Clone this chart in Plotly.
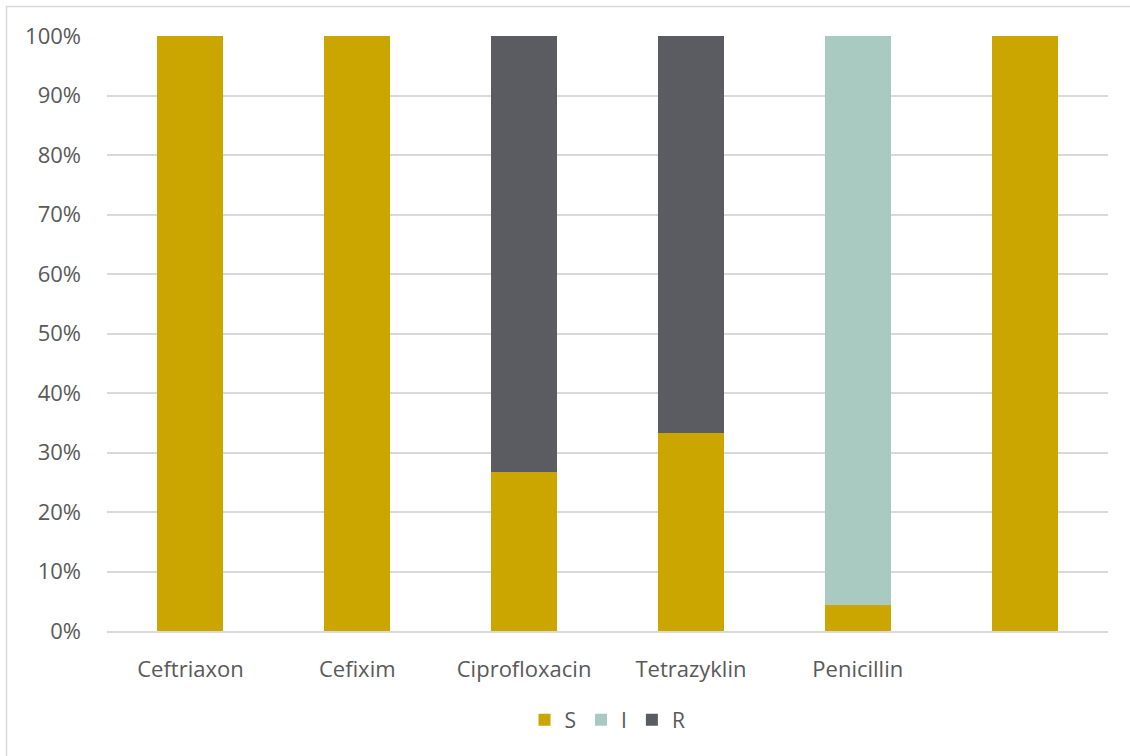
import plotly.graph_objects as go

categories = ["Ceftriaxon", "Cefixim", "Ciprofloxacin", "Tetrazyklin", "Penicillin", " "]
s_values = [1.0, 1.0, 0.267, 0.333, 0.044, 1.0]
i_values = [0.0, 0.0, 0.0, 0.0, 0.956, 0.0]
r_values = [0.0, 0.0, 0.733, 0.667, 0.0, 0.0]
y_ticks = [0, 0.1, 0.2, 0.3, 0.4, 0.5, 0.6, 0.7, 0.8, 0.9, 1.0]

colors = {"S": "#CBA500", "I": "#A8CAC0", "R": "#5B5C61"}
font_family = "Open Sans, Noto Sans, sans-serif"
text_color = "#595959"

fig = go.Figure()
for name, vals in [("S", s_values), ("I", i_values), ("R", r_values)]:
    fig.add_trace(go.Bar(
        x=categories, y=vals, name=name,
        marker=dict(color=colors[name], line=dict(width=0)),
        hoverinfo="x+y+name",
    ))

W, H = 1130, 756
L, R, T, B = 107, 22, 36, 125
pw, ph = W - L - R, H - T - B

def px_x(px):
    return (px - L) / pw

def px_y(py):
    return (H - B - py) / ph

fig.update_layout(
    width=W, height=H,
    barmode="stack",
    bargap=0.605,
    margin=dict(l=L, r=R, t=T, b=B),
    plot_bgcolor="white",
    paper_bgcolor="white",
    font=dict(family=font_family, size=22, color=text_color),
    showlegend=True,
    legend=dict(
        orientation="h", x=0.5, xanchor="center",
        y=px_y(720), yanchor="middle",
        font=dict(size=21, color=text_color),
        itemwidth=30, tracegroupgap=0, traceorder="normal",
    ),
    xaxis=dict(
        showgrid=False, showline=True, linecolor="#D9D9D9", linewidth=2,
        ticks="", ticklabelstandoff=18, fixedrange=True,
    ),
    yaxis=dict(
        range=[0, 1.0], tickvals=y_ticks, tickformat=".0%",
        showgrid=True, gridcolor="#D9D9D9", gridwidth=2,
        zeroline=False, showline=False, ticks="",
        ticklabelstandoff=25, fixedrange=True,
    ),
    shapes=[dict(
        type="rect", xref="paper", yref="paper",
        x0=px_x(6.5), x1=px_x(1160), y0=px_y(6.5), y1=px_y(790),
        line=dict(color="#D9D9D9", width=1.5), fillcolor="rgba(0,0,0,0)",
        layer="below",
    )],
)

fig.write_html("out.html")
